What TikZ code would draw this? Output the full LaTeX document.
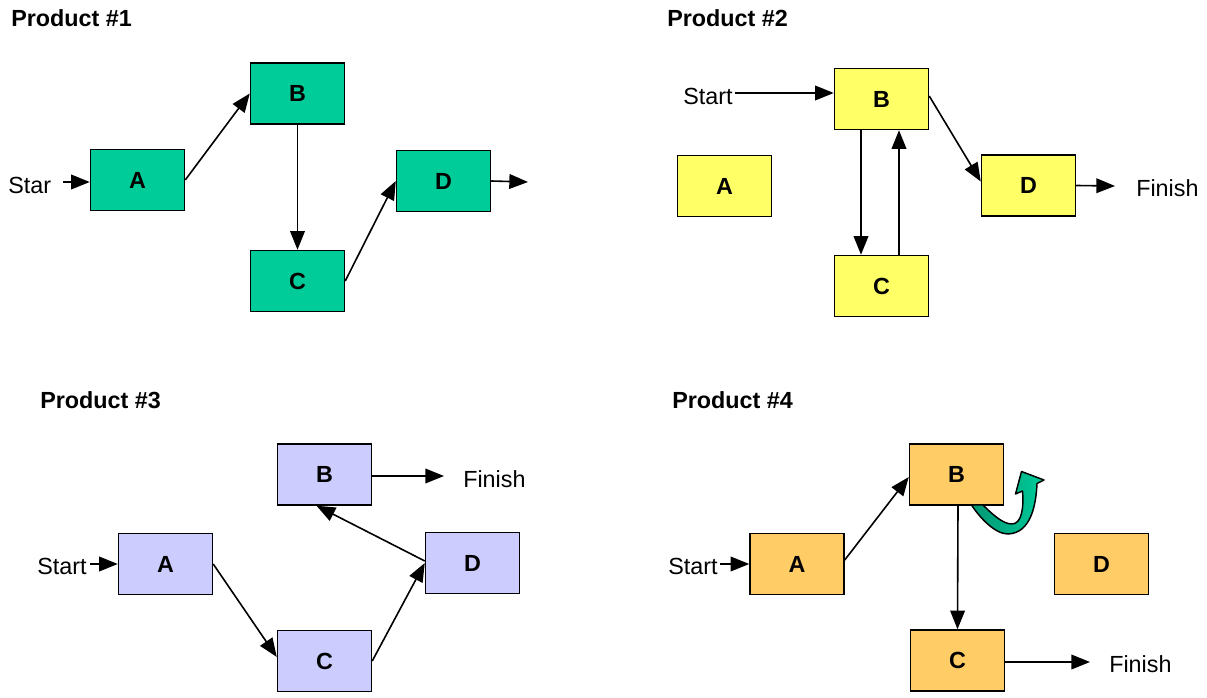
\documentclass[tikz,border=0pt]{standalone}
\usepackage{fontspec}
\setmainfont{Liberation Sans}
\usetikzlibrary{arrows.meta,calc}

\definecolor{grn}{RGB}{0,204,153}
\definecolor{grndark}{RGB}{0,150,115}
\definecolor{ylw}{RGB}{255,255,102}
\definecolor{lav}{RGB}{204,204,255}
\definecolor{org}{RGB}{255,204,102}

\newcommand{\labelfont}{\fontsize{17.5}{21}\selectfont}

\tikzset{
  box/.style={draw=black, line width=1.1pt, minimum width=70.5pt, minimum height=45.75pt,
              inner sep=0pt, font=\labelfont\bfseries},
  lbl/.style={inner sep=0pt, anchor=west, font=\labelfont},
  ttl/.style={inner sep=0pt, anchor=base west, font=\labelfont\bfseries},
  arr/.style={line width=1.2pt, -{Triangle[length=14pt,width=11pt]}},
}

\begin{document}
\begin{tikzpicture}[x=0.75pt, y=-0.75pt]
\useasboundingbox (0,0) rectangle (1207,698);

% ---------------- Product #1 ----------------
\node[ttl] (t1) at (11,27) {Product \#1};
\node[box, fill=grn] (A1) at (137.5,180) {A};
\node[box, fill=grn] (B1) at (297.5,93.5) {B};
\node[box, fill=grn] (C1) at (297.5,281) {C};
\node[box, fill=grn] (D1) at (443.5,181) {D};
\node[lbl] (s1) at (8,185) {Star};
\coordinate (o1) at (528,182);
\draw[arr] ($(s1.east)+(12,-3)$) -- ($(s1.east -| A1.west)+(0,-3)$);
\draw[arr] (A1.east) -- (B1.west);
\draw[arr] (B1.south) -- (C1.north);
\draw[arr] (C1.east) -- (D1.west);
\draw[arr] (D1.east) -- (o1);

% ---------------- Product #2 ----------------
\node[ttl] (t2) at (667,27) {Product \#2};
\node[box, fill=ylw] (A2) at (724.5,186) {A};
\node[box, fill=ylw] (B2) at (881.5,99) {B};
\node[box, fill=ylw] (C2) at (881.5,286) {C};
\node[box, fill=ylw] (D2) at (1028.5,185.5) {D};
\node[lbl] (s2) at (683,96) {Start};
\node[lbl] (f2) at (1136,188) {Finish};
\draw[arr] ($(s2.east)+(2,-3)$) -- ($(s2.east -| B2.west)+(0,-3)$);
\draw[arr] ($(B2.south)+(-20.5,0)$) -- ($(C2.north)+(-20.5,0)$);
\draw[arr] ($(C2.north)+(17.5,0)$) -- ($(B2.south)+(17.5,0)$);
\draw[arr] ($(B2.east)+(0,-3)$) -- ($(D2.west)+(0,-4)$);
\draw[arr] (D2.east) -- ($(f2.west)+(-21,-2)$);

% ---------------- Product #3 ----------------
\node[ttl] (t3) at (40,409) {Product \#3};
\node[box, fill=lav] (A3) at (165.5,564) {A};
\node[box, fill=lav] (B3) at (324.5,474.5) {B};
\node[box, fill=lav] (C3) at (324.5,661) {C};
\node[box, fill=lav] (D3) at (472.5,563) {D};
\node[lbl] (s3) at (37,566) {Start};
\node[lbl] (f3) at (463,479) {Finish};
\draw[arr] ($(s3.east)+(3,-2)$) -- ($(s3.east -| A3.west)+(0,-2)$);
\draw[arr] (A3.east) -- ($(C3.west)+(0,-4)$);
\draw[arr] (C3.east) -- (D3.west);
\draw[arr] ($(D3.west)+(0,-2)$) -- ($(B3.south)+(-8,0)$);
\draw[arr] ($(B3.east)+(0,1.5)$) -- ($(f3.west)+(-19,-3)$);

% ---------------- Product #4 ----------------
\node[ttl] (t4) at (672,409) {Product \#4};
\node[box, fill=org] (A4) at (797,564) {A};
\node[box, fill=org] (B4) at (956.5,474.5) {B};
\node[box, fill=org] (C4) at (957.5,660.5) {C};
\node[box, fill=org] (D4) at (1101.5,564) {D};
\node[lbl] (s4) at (668,566) {Start};
\node[lbl] (f4) at (1109,664) {Finish};
\draw[arr] ($(s4.east)+(2,-2)$) -- ($(s4.east -| A4.west)+(0,-2)$);
\draw[arr] ($(A4.east)+(0,-4)$) -- ($(B4.west)+(0,2.5)$);
\draw[arr] ($(B4.south)+(1.5,0)$) -- (C4.north);
\draw[arr] ($(C4.east)+(0,1.5)$) -- ($(f4.west)+(-19,-2)$);

% curved block arrow turning back up beside B
\draw[line width=1.1pt, line join=round, left color=grndark, right color=grn]
  (983,505) .. controls (995,517) and (1004,524) .. (1012,524)
  .. controls (1022,524) and (1024,506) .. (1022.5,491)
  -- (1015.5,494) -- (1021.5,471.5) -- (1044,480) -- (1037,483.5)
  .. controls (1036,505) and (1031,533) .. (1008,534)
  .. controls (995,534) and (980,518) .. (971.5,505) -- cycle;

\end{tikzpicture}
\end{document}
